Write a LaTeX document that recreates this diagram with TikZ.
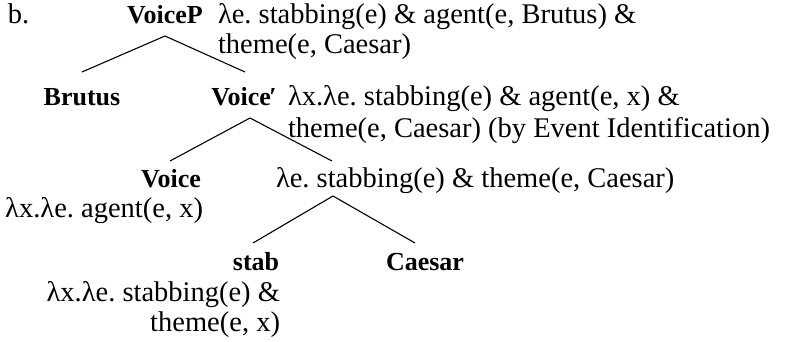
\documentclass[tikz,border=0pt]{standalone}
\usepackage{fontspec}
\setmainfont{Liberation Serif}
\frenchspacing
\begin{document}
\begin{tikzpicture}[x=1pt,y=-1pt,
  every node/.style={inner sep=0pt, outer sep=0pt, font=\fontsize{28.5}{32}\selectfont},
  cat/.style={font=\fontsize{26}{30}\selectfont\bfseries, anchor=base},
  sem/.style={anchor=base west},
  semr/.style={anchor=base east},
  branch/.style={line width=1.1pt, black}]
\useasboundingbox (0,0) rectangle (786,342);
% labels
\node[anchor=base west] (lab) at (8,24) {b.};
\node[cat] (voicep) at (165,24) {VoiceP};
\node[sem] (vpsemA) at (218,24) {λe. stabbing(e) \& agent(e, Brutus) \&};
\node[sem] (vpsemB) at (218,54) {theme(e, Caesar)};
\node[cat] (brutus) at (82,106) {Brutus};
\node[cat] (voicebar) at (244,106) {Voice\kern-1.5pt′};
\node[sem] (vbsemA) at (288,106) {λx.λe. stabbing(e) \& agent(e, x) \&};
\node[sem] (vbsemB) at (288,137) {theme(e, Caesar) (by Event Identification)};
\node[cat] (voice) at (171,187) {Voice};
\node[semr] (vsem) at (203,217) {λx.λe. agent(e, x)};
\node[sem] (vpr) at (276,187) {λe. stabbing(e) \& theme(e, Caesar)};
\node[cat] (stab) at (256,270) {stab};
\node[cat] (caesar) at (425,270) {Caesar};
\node[semr] (stabsemA) at (280,301) {λx.λe. stabbing(e) \&};
\node[semr] (stabsemB) at (280,331) {theme(e, x)};
% branch points
\coordinate (vp-b) at (165,36);
\coordinate (br-t) at (82,72);
\coordinate (vb-t) at (245,72);
\coordinate (vb-b) at (250,118);
\coordinate (v-t) at (170,161);
\coordinate (vpr-t) at (332,161);
\coordinate (vpr-b) at (333,196);
\coordinate (st-t) at (253,243);
\coordinate (ca-t) at (415,243);
\draw[branch] (br-t) -- (vp-b) -- (vb-t);
\draw[branch] (v-t) -- (vb-b) -- (vpr-t);
\draw[branch] (st-t) -- (vpr-b) -- (ca-t);
\end{tikzpicture}
\end{document}
